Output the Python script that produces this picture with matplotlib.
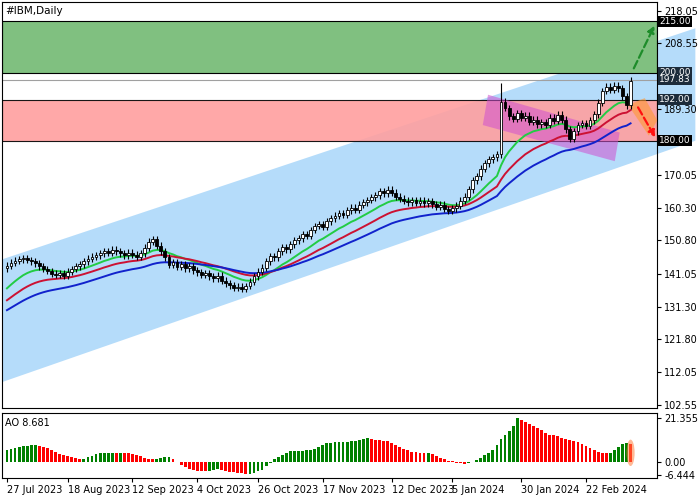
import matplotlib
matplotlib.use("Agg")
import matplotlib.pyplot as plt
import numpy as np
import pandas as pd
from matplotlib.patches import Polygon, Rectangle, Ellipse

# ── data ─────────────────────────────────────────────────────────────────────

pre_closes = [120.0, 120.8, 121.4, 122.0, 122.6, 123.4, 124.0, 124.6, 125.2, 126.0,
              126.6, 127.2, 127.8, 128.4, 129.0, 129.6, 130.2, 130.8, 131.4, 132.0,
              132.6, 133.2, 133.8, 134.4, 135.0, 135.6, 136.4, 138.0, 140.4, 142.6]

closes = [
    143.4, 144.2, 144.8, 145.2, 145.6, 145.0, 144.6, 144.0, 143.2, 142.4,
    141.8, 141.0, 140.6, 141.2, 140.4, 141.6, 142.4, 143.2, 143.8, 144.6,
    145.4, 146.0, 146.4, 147.0, 147.6, 147.2, 148.0, 147.6, 147.0, 146.4,
    147.2, 146.6, 146.0, 147.0, 148.6, 150.4, 151.2, 149.2, 147.6, 145.8,
    143.6, 144.4, 143.0, 143.8, 142.6, 143.2, 142.0, 141.4, 140.6, 141.2,
    140.2, 139.6, 140.4, 139.0, 138.2, 137.6, 136.8, 137.2, 136.6, 137.4,
    138.6, 140.2, 141.6, 142.8, 144.6, 146.2, 145.8, 147.6, 148.8, 148.2,
    149.6, 150.8, 151.4, 152.6, 152.2, 153.8, 155.0, 155.6, 154.8, 156.4,
    157.2, 158.0, 158.8, 158.2, 159.6, 160.4, 159.8, 161.2, 162.0, 162.6,
    163.4, 164.0, 165.2, 164.6, 165.6, 164.8, 163.6, 163.0, 162.4, 162.0,
    162.6, 161.8, 162.4, 161.6, 162.2, 161.4, 160.6, 161.2, 160.0, 159.4,
    160.2, 161.0, 162.4, 163.6, 165.8, 168.4, 169.6, 171.8, 173.4, 174.6,
    175.2, 176.0, 191.4,
    189.6, 187.2, 186.4, 188.0, 186.8, 187.4, 185.6, 186.2, 184.8, 185.4, 184.6, 186.8,
    185.8, 187.6, 186.2, 183.4, 180.6, 182.8, 184.6, 185.2, 184.4, 186.0,
    187.8, 191.2, 194.6, 195.8, 195.0, 196.2, 195.4, 193.0, 190.4, 197.6,
]
spike_bar = 122
spike_high = 196.8

ao_values = [
    5.7, 6.2, 6.8, 7.3, 7.7, 8.0, 8.1, 8.2, 8.0, 7.4, 6.6, 5.7, 4.8, 4.0, 3.3, 2.7, 2.2, 1.8, 1.5, 1.6,
    2.2, 2.9, 3.6, 4.1, 4.4, 4.5, 4.5, 4.4, 4.5, 4.3, 4.2, 3.7, 3.1, 2.6, 2.0, 1.4, 1.2, 1.6, 2.0, 2.1,
    2.1, 1.2, 0.0, -1.4, -2.6, -3.5, -4.1, -4.4, -4.5, -4.6, -4.6, -4.2, -3.6, -3.9, -4.4, -4.9, -5.2, -5.5, -5.7, -5.8,
    -5.8, -5.3, -4.6, -3.9, -2.2, -0.4, 1.2, 2.3, 3.3, 4.3, 5.2, 5.4, 5.4, 5.5, 5.6, 5.7, 6.4, 7.3, 8.2, 9.1,
    9.4, 9.6, 9.8, 9.9, 9.9, 10.1, 10.4, 10.8, 11.2, 11.6, 11.3, 10.9, 10.6, 10.4, 10.0, 9.2, 8.3, 7.4, 6.5, 5.7,
    5.0, 4.6, 4.3, 4.2, 4.2, 3.6, 2.8, 1.9, 1.2, 0.6, 0.2, -0.4, -0.8, -1.0, -0.6, 0.1, 1.0, 2.0, 3.1, 4.4,
    6.0, 8.3, 11.0, 13.4, 15.2, 17.4, 21.3, 20.4, 19.4, 18.5, 17.6, 16.5, 15.4, 14.3, 13.4, 13.0, 12.5, 11.9, 11.3, 10.8,
    10.4, 9.6, 8.7, 7.6, 6.7, 5.8, 5.0, 4.5, 4.4, 4.5, 6.0, 7.4, 8.6, 9.0, 8.7,
]

date_ticks = [0, 15, 31, 47, 62, 78, 95, 110, 127, 143]
date_labels = ["27 Jul 2023", "18 Aug 2023", "12 Sep 2023", "4 Oct 2023", "26 Oct 2023",
               "17 Nov 2023", "12 Dec 2023", "5 Jan 2024", "30 Jan 2024", "22 Feb 2024"]

price_ticks = [218.05, 208.55, 189.30, 170.05, 160.30, 150.80, 141.05, 131.30, 121.80, 112.05, 102.55]
level_boxes = [(215.00, "#000000"), (200.00, "#1c2b3a"), (197.83, "#1c2b3a"),
               (192.00, "#1c2b3a"), (180.00, "#000000")]

# ── derived series ───────────────────────────────────────────────────────────

full = pd.Series(pre_closes + closes)
n_pre = len(pre_closes)
ma_green = full.ewm(span=13, adjust=False).mean().values[n_pre:]
ma_red = full.ewm(span=24, adjust=False).mean().values[n_pre:]
ma_blue = full.ewm(span=38, adjust=False).mean().values[n_pre:]

closes = np.array(closes)
opens = np.concatenate([[pre_closes[-1]], closes[:-1]])
highs = np.maximum(opens, closes) + 1.0
lows = np.minimum(opens, closes) - 1.0
highs[spike_bar] = spike_high
x = np.arange(len(closes))

# ── figure ───────────────────────────────────────────────────────────────────

fig = plt.figure(figsize=(7, 5), dpi=100)
ax = fig.add_axes([0.003, 0.184, 0.936, 0.812])
ax2 = fig.add_axes([0.003, 0.044, 0.936, 0.130])
xlim = (-1.2, 160.6)
ylim = (101.6, 220.7)

ax.set_xlim(*xlim)
ax.set_ylim(*ylim)

# channel
chan = Polygon([(-1.2, 109.2), (170, 180.0), (170, 213.0), (-1.2, 145.2)],
               closed=True, facecolor="#b5dcfa", edgecolor="none", zorder=1, clip_on=False)
ax.add_patch(chan)

# zones
ax.add_patch(Rectangle((xlim[0], 200.0), xlim[1] - xlim[0], 15.0, facecolor="#80c080",
                       edgecolor="black", lw=0.8, zorder=2))
ax.add_patch(Rectangle((xlim[0], 180.0), xlim[1] - xlim[0], 12.0, facecolor="#ff9f9f",
                       edgecolor="black", lw=0.8, alpha=0.9, zorder=2))
ax.axhline(197.83, color="#a0a0a0", lw=0.8, zorder=2)

# pink consolidation box and orange highlight
ax.add_patch(Polygon([(118.8, 193.5), (151.3, 182.4), (150.1, 174.0), (117.5, 184.6)],
                     closed=True, facecolor="#d050d0", alpha=0.55, edgecolor="none", zorder=3))
ax.add_patch(Polygon([(153.4, 190.5), (157.5, 192.5), (160.6, 186.0), (158.5, 181.5)],
                     closed=True, facecolor="#ff9933", alpha=0.6, edgecolor="none", zorder=3))

# moving averages
ax.plot(x, ma_green, color="#22cc44", lw=1.4, zorder=4)
ax.plot(x, ma_red, color="#cc1133", lw=1.4, zorder=4)
ax.plot(x, ma_blue, color="#1122cc", lw=1.4, zorder=4)

# candles
for i in x:
    ax.vlines(i, lows[i], highs[i], color="black", lw=0.8, zorder=5)
    face = "white" if closes[i] >= opens[i] else "black"
    bottom = min(opens[i], closes[i])
    height = max(abs(closes[i] - opens[i]), 0.2)
    ax.add_patch(Rectangle((i - 0.35, bottom), 0.7, height, facecolor=face,
                           edgecolor="black", lw=0.6, zorder=6))

# forecast arrows
ax.annotate("", xy=(160.2, 214.5), xytext=(154.5, 200.5),
            arrowprops=dict(arrowstyle="-|>", color="#1e8c2a", lw=1.6, ls="--"), zorder=7)
ax.annotate("", xy=(160.4, 180.3), xytext=(155.5, 190.5),
            arrowprops=dict(arrowstyle="-|>", color="#ff1010", lw=1.6, ls="--"), zorder=7)

ax.set_xticks([])
ax.yaxis.tick_right()
ax.set_yticks(price_ticks)
ax.set_yticklabels([f"{v:.2f}" for v in price_ticks], fontsize=7)
ax.tick_params(axis="y", length=3, pad=2)
for val, col in level_boxes:
    ax.text(1.003, val, f"{val:.2f}", transform=ax.get_yaxis_transform(), fontsize=6.5,
            color="white", va="center", ha="left", zorder=10,
            bbox=dict(boxstyle="square,pad=0.1", facecolor=col, edgecolor="none"))
ax.text(0.005, 0.99, "#IBM,Daily", transform=ax.transAxes, fontsize=7.5, va="top")

# ── AO panel ─────────────────────────────────────────────────────────────────

ao = np.array(ao_values)
ao_colors = ["#008000" if i == 0 or ao[i] >= ao[i - 1] else "#ff0000" for i in range(len(ao))]
ax2.bar(np.arange(len(ao)), ao, width=0.7, color=ao_colors, zorder=3)
ax2.add_patch(Ellipse((len(ao) - 1, 4.4), 2.0, 13, facecolor="#ff8040", alpha=0.55,
                      edgecolor="none", zorder=4))
ax2.set_xlim(*xlim)
ax2.set_ylim(-8.0, 24.0)
ax2.yaxis.tick_right()
ax2.set_yticks([21.355, 0.0, -6.444])
ax2.set_yticklabels(["21.355", "0.00", "-6.444"], fontsize=7)
ax2.tick_params(axis="y", length=3, pad=2)
ax2.text(0.005, 0.93, "AO 8.681", transform=ax2.transAxes, fontsize=7, va="top")
ax2.set_xticks(date_ticks)
ax2.set_xticklabels(date_labels, fontsize=7, ha="left")
ax2.tick_params(axis="x", length=3, pad=2)

fig.savefig("out.png", dpi=100)
